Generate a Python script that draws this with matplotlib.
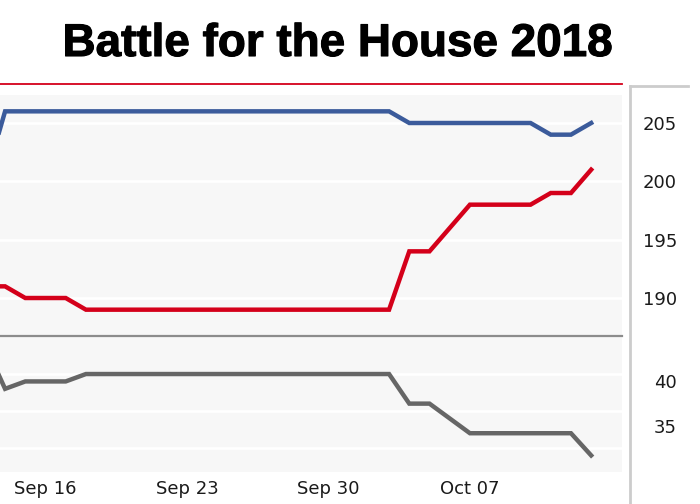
import pandas as pd
import matplotlib
matplotlib.use('Agg')
import matplotlib.pyplot as plt
import matplotlib.dates as mdates
import matplotlib.patheffects as pe
from matplotlib.lines import Line2D

# Daily seat forecast, Sep 13 - Oct 13 2018
dates = pd.date_range('2018-09-13', '2018-10-13', freq='D')
dem = [200] + [206] * 20 + [205] * 7 + [204, 204, 205]
rep = [191, 191, 190, 190, 190] + [189] * 16 + [194, 194, 196, 198, 198, 198, 198, 199, 199, 201]
tossup = [44, 38, 39, 39, 39] + [40] * 16 + [36, 36, 34, 32, 32, 32, 32, 32, 32, 29]

tick_dates = pd.to_datetime(['2018-09-16', '2018-09-23', '2018-09-30', '2018-10-07'])
top_ticks = [205, 200, 195, 190]
bot_grid = [40, 35, 30]
bot_labels = [40, 35]

W, H = 700, 504
fig = plt.figure(figsize=(W / 100, H / 100), dpi=100)

def fbox(x0, y0, x1, y1):
    # pixel box (top-left origin) -> figure fraction rect
    return [x0 / W, 1 - y1 / H, (x1 - x0) / W, (y1 - y0) / H]

bg = '#f7f7f7'
ax_top = fig.add_axes(fbox(0, 95, 622, 335))
ax_bot = fig.add_axes(fbox(0, 336, 622, 472), sharex=ax_top)

# x range: Sep 16 sits 45.5 px in, 20.21 px per day
x16 = mdates.date2num(pd.Timestamp('2018-09-16'))
xlim = (x16 - 45.5 / 20.21, x16 + 576.5 / 20.21)

for ax in (ax_top, ax_bot):
    ax.set_facecolor(bg)
    for s in ax.spines.values():
        s.set_visible(False)
    ax.tick_params(length=0)
    ax.grid(axis='y', color='white', linewidth=1.8)
    ax.set_axisbelow(True)
    ax.set_xlim(*xlim)

lw = 3.2
ax_top.plot(dates, dem, color='#3b5b9b', linewidth=lw, solid_joinstyle='miter')
ax_top.plot(dates, rep, color='#d4001a', linewidth=lw, solid_joinstyle='miter')
ax_top.set_ylim(186.83, 207.4)
ax_top.set_yticks(top_ticks)
ax_top.yaxis.tick_right()
ax_top.tick_params(axis='y', pad=39.6, labelsize=13, labelcolor='#1a1a1a')
for t in ax_top.get_yticklabels():
    t.set_horizontalalignment('right')
ax_top.tick_params(axis='x', labelbottom=False)

ax_bot.plot(dates, tossup, color='#666666', linewidth=lw, solid_joinstyle='miter')
ax_bot.set_ylim(26.76, 45.14)
ax_bot.set_yticks(bot_grid)
ax_bot.set_yticklabels([])
ax_bot.spines['top'].set_visible(True)
ax_bot.spines['top'].set_color('#8c8c8c')
ax_bot.spines['top'].set_linewidth(1.6)
ax_bot.set_xticks(tick_dates)
ax_bot.xaxis.set_major_formatter(mdates.DateFormatter('%b %d'))
ax_bot.tick_params(axis='x', pad=5.5, labelsize=13, labelcolor='#1a1a1a')

# labels for the lower panel sit on their own scale
ax_lab = ax_bot.twinx()
ax_lab.set_ylim(29.9, 45)
ax_lab.set_yticks(bot_labels)
ax_lab.tick_params(length=0, pad=39.6, labelsize=13, labelcolor='#1a1a1a')
for t in ax_lab.get_yticklabels():
    t.set_horizontalalignment('right')
for s in ax_lab.spines.values():
    s.set_visible(False)
ax_lab.patch.set_visible(False)

# decorations
fig.add_artist(Line2D([0, 622 / W], [1 - 84 / H] * 2, color='#d4001a', linewidth=1.3))
fig.add_artist(Line2D([630 / W] * 2, [1 - 86 / H, 0], color='#cccccc', linewidth=2))
fig.add_artist(Line2D([630 / W, 688 / W], [1 - 86 / H] * 2, color='#cccccc', linewidth=2))

fig.text(338 / W, 1 - 44 / H, 'Battle for the House 2018', ha='center', va='center',
         fontsize=33, fontweight='bold', family='Liberation Sans', color='black',
         path_effects=[pe.withStroke(linewidth=0.8, foreground='black')])

fig.savefig('out.png', dpi=100)
